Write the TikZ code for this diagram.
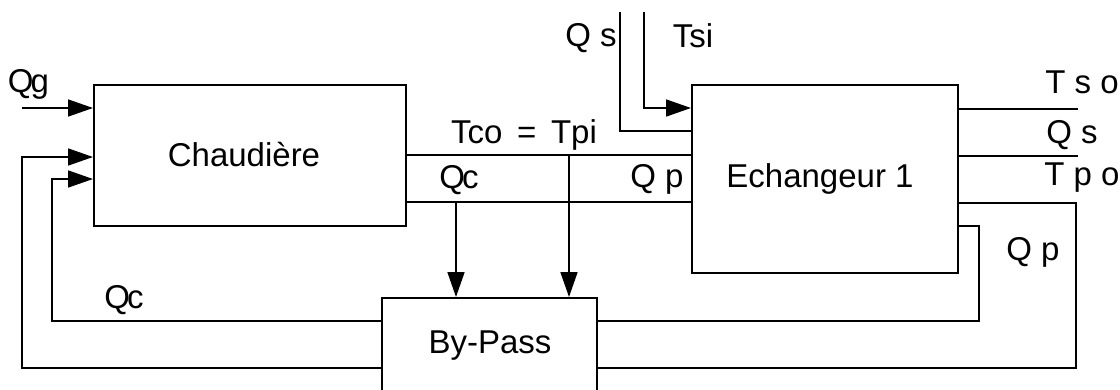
\documentclass[tikz,border=0pt]{standalone}
\usepackage{fontspec}
\setmainfont{Liberation Sans}
\usetikzlibrary{arrows.meta}
\begin{document}
\begin{tikzpicture}[x=1pt,y=-1pt,
  line width=1.7pt,
  box/.style={draw,line width=1.9pt,rectangle,inner sep=0pt,anchor=north west},
  lbl/.style={anchor=base,inner sep=0pt,font=\fontsize{33}{38}\selectfont},
  arr/.style={-{Triangle[length=25pt,width=17pt]}}]
\useasboundingbox (0,0) rectangle (1120,389);
% boxes
\node[box,minimum width=312pt,minimum height=141pt] (chaud) at (93,84) {};
\node[box,minimum width=266pt,minimum height=188pt] (ech) at (691,84) {};
\node[box,minimum width=215pt,minimum height=130pt] (bp) at (381,297) {};
\node[lbl] (tchaud) at (244,166) {Chaudière};
\node[lbl] (tech) at (820,187) {Echangeur 1};
\node[lbl] (tbp) at (490,353) {By-Pass};
% coordinates
\coordinate (qgin) at (22,108);
\coordinate (o1) at (22,368);
\coordinate (o2) at (22,157);
\coordinate (i1) at (52,321);
\coordinate (i2) at (52,179);
\coordinate (r1) at (979,321);
\coordinate (r2) at (979,226);
\coordinate (s1) at (1076,368);
\coordinate (s2) at (1076,203);
\coordinate (qs1) at (620,12);
\coordinate (qs2) at (620,131);
\coordinate (ts1) at (644,12);
\coordinate (ts2) at (644,108);
\coordinate (tc) at (405,155);
\coordinate (qc) at (405,202);
\coordinate (d1) at (456,202);
\coordinate (d2) at (569,155);
\coordinate (out1) at (1078,109);
\coordinate (out2) at (1078,156);
% connectors
\draw[arr] (qgin) -- (qgin -| chaud.west);
\draw[arr] (bp.west |- o1) -- (o1) -- (o2) -- (o2 -| chaud.west);
\draw[arr] (bp.west |- i1) -- (i1) -- (i2) -- (i2 -| chaud.west);
\draw (bp.east |- i1) -- (r1) -- (r2) -- (r2 -| ech.east);
\draw (bp.east |- s1) -- (s1) -- (s2) -- (s2 -| ech.east);
\draw (tc) -- (tc -| ech.west);
\draw (qc) -- (qc -| ech.west);
\draw[arr] (d1) -- (d1 |- bp.north);
\draw[arr] (d2) -- (d2 |- bp.north);
\draw (qs1) -- (qs2) -- (qs2 -| ech.west);
\draw[arr] (ts1) -- (ts2) -- (ts2 -| ech.west);
\draw (out1 -| ech.east) -- (out1);
\draw (out2 -| ech.east) -- (out2);
% labels
\node[lbl] (lqg) at (28.5,92) {Q\kern-3pt g};
\node[lbl] (lqc1) at (124,308) {Q\kern-3pt c};
\node[lbl] (ltco) at (524,143) {Tco \,=\, Tpi};
\node[lbl] (lqc2) at (459,188) {Q\kern-3pt c};
\node[lbl] (lqp1) at (657,187) {Q p};
\node[lbl] (lqs1) at (591,46) {Q s};
\node[lbl] (ltsi) at (693,47) {Tsi};
\node[lbl] (ltso) at (1082,93) {T s o};
\node[lbl] (lqs2) at (1072,143) {Q s};
\node[lbl] (ltpo) at (1082,185) {T p o};
\node[lbl] (lqp2) at (1033,260) {Q p};
\end{tikzpicture}
\end{document}
